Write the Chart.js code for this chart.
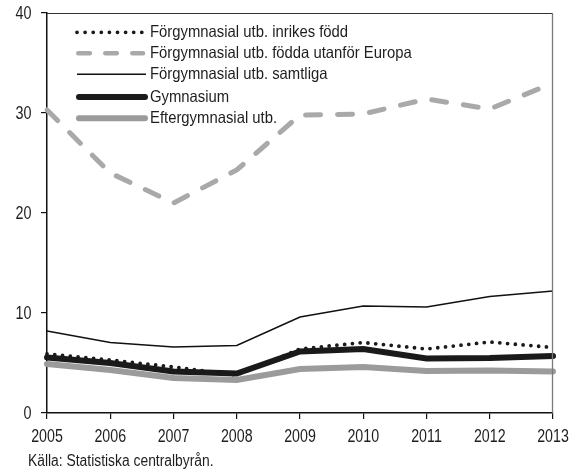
<!DOCTYPE html>
<html>
<head>
<meta charset="utf-8">
<script src="https://cdn.jsdelivr.net/npm/chart.js@4/dist/chart.umd.min.js"></script>
<style>
html,body{margin:0;padding:0;background:#fff;}
#wrap{position:relative;width:571px;height:472px;}
</style>
</head>
<body>
<div id="wrap"><canvas id="c" width="571" height="472"></canvas></div>
<script>
const years = ['2005','2006','2007','2008','2009','2010','2011','2012','2013'];
const inrikes = [5.9, 5.3, 4.6, 3.8, 6.4, 7.05, 6.4, 7.1, 6.55];
const utanforEuropa = [30.3, 24.0, 21.0, 24.3, 29.8, 29.9, 31.4, 30.4, 33.0];
const samtliga = [8.2, 7.05, 6.6, 6.75, 9.6, 10.7, 10.6, 11.65, 12.2];
const gymnasium = [5.55, 5.0, 4.15, 3.95, 6.15, 6.4, 5.45, 5.5, 5.7];
const eftergymnasial = [4.9, 4.3, 3.5, 3.3, 4.4, 4.6, 4.2, 4.25, 4.15];
const yTicks = [0, 10, 20, 30, 40];
const labels = ['Förgymnasial utb. inrikes född','Förgymnasial utb. födda utanför Europa','Förgymnasial utb. samtliga','Gymnasium','Eftergymnasial utb.'];
const sourceText = 'Källa: Statistiska centralbyrån.';

const FONT = "'Liberation Sans', Arial, sans-serif";
const TXT = '#1e1e1e';

const datasets = [
  {label: labels[0], data: inrikes, borderColor:'#1a1a1a', borderWidth:3.8, borderDash:[0,7.8], borderCapStyle:'round', order:1},
  {label: labels[1], data: utanforEuropa, borderColor:'#a9a9a9', borderWidth:5, borderDash:[15,17], borderCapStyle:'round', order:5},
  {label: labels[2], data: samtliga, borderColor:'#111', borderWidth:1.6, order:4},
  {label: labels[3], data: gymnasium, borderColor:'#1a1a1a', borderWidth:6, borderCapStyle:'round', order:2},
  {label: labels[4], data: eftergymnasial, borderColor:'#9b9b9b', borderWidth:6, borderCapStyle:'round', order:3}
];
datasets.forEach(d=>{d.pointRadius=0;d.tension=0;d.fill=false;d.backgroundColor=d.borderColor;});

function drawText(ctx, text, x, y, size, sx, align){
  ctx.save();
  ctx.font = size + 'px ' + FONT;
  ctx.fillStyle = TXT;
  ctx.textBaseline = 'middle';
  ctx.textAlign = align;
  ctx.translate(x, y);
  ctx.scale(sx, 1);
  ctx.fillText(text, 0, 0);
  ctx.restore();
}

const extras = {
  id:'extras',
  afterDraw(chart){
    const ctx = chart.ctx, a = chart.chartArea;
    ctx.save();
    // top & right frame
    ctx.strokeStyle = '#333'; ctx.lineWidth = 1.2;
    ctx.beginPath(); ctx.moveTo(a.left, a.top+0.5); ctx.lineTo(a.right, a.top+0.5); ctx.stroke();
    ctx.strokeStyle = '#7a7a7a'; ctx.lineWidth = 1.3;
    ctx.beginPath(); ctx.moveTo(a.right-0.5, a.top); ctx.lineTo(a.right-0.5, a.bottom); ctx.stroke();
    ctx.restore();
    // tick labels
    const xs = chart.scales.x, ys = chart.scales.y;
    years.forEach((yr,i)=>{ drawText(ctx, yr, xs.getPixelForValue(i), 437, 18, 0.79, 'center'); });
    yTicks.forEach(v=>{ drawText(ctx, String(v), 31.5, ys.getPixelForValue(v)+1, 18, 0.8, 'right'); });
    // legend
    const x0 = 77, x1 = 146, tx = 150;
    const rowsY = [32.3, 53.3, 74.3, 97, 118.3];
    chart.data.datasets.forEach((d,i)=>{
      const y = rowsY[i];
      ctx.save();
      ctx.strokeStyle = d.borderColor;
      ctx.lineWidth = d.borderWidth;
      ctx.lineCap = d.borderCapStyle || 'butt';
      let s = x0, e = x1;
      if (i===0) { ctx.setLineDash([0,8.1]); s = 77; e = 142; }
      else if (i===1) { ctx.setLineDash([11.5,15.5]); ctx.lineWidth = 4.6; s = 78.3; e = 143; }
      else if (i===3 || i===4) { s = 79; e = 145; }
      else ctx.setLineDash([]);
      ctx.beginPath(); ctx.moveTo(s, y); ctx.lineTo(e, y); ctx.stroke();
      ctx.restore();
      drawText(ctx, d.label, tx, y+0.5, 16.5, 0.9, 'left');
    });
    // source
    drawText(ctx, sourceText, 28, 461.5, 16, 0.866, 'left');
  }
};

new Chart(document.getElementById('c'), {
  type:'line',
  data:{labels: years, datasets},
  options:{
    responsive:false,
    animation:false,
    layout:{padding:{left:0, right:18, top:13, bottom:0}},
    plugins:{legend:{display:false}, tooltip:{enabled:false}},
    scales:{
      x:{
        offset:false,
        grid:{drawOnChartArea:false, drawTicks:true, tickLength:6, color:'#111', lineWidth:1.2},
        border:{display:true, color:'#111', width:1.5},
        ticks:{color:'rgba(0,0,0,0)', font:{family:FONT, size:14}, padding:4, maxRotation:0, autoSkip:false},
        afterFit(s){ s.height = 59; s.paddingLeft = 0; s.paddingRight = 0; }
      },
      y:{
        min:0, max:40,
        afterBuildTicks(s){ s.ticks = yTicks.map(v=>({value:v})); },
        grid:{drawOnChartArea:false, drawTicks:true, tickLength:6, color:'#111', lineWidth:1.2},
        border:{display:true, color:'#111', width:1.5},
        ticks:{color:'rgba(0,0,0,0)', font:{family:FONT, size:14}, padding:5},
        afterFit(s){ s.width = 47; s.paddingTop = 0; s.paddingBottom = 0; }
      }
    }
  },
  plugins:[extras]
});
</script>
</body>
</html>
